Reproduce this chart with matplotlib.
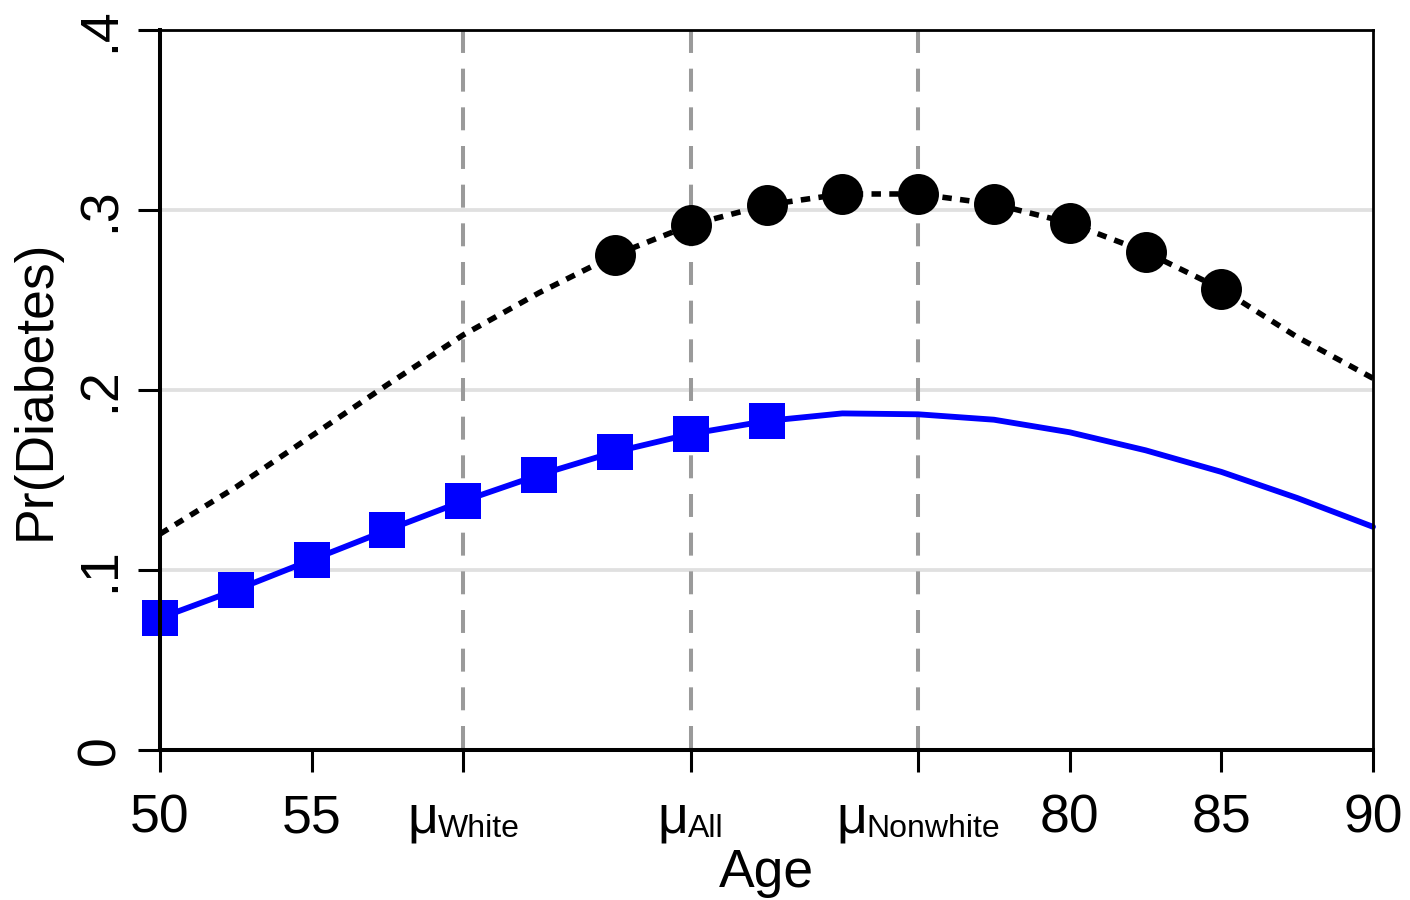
import matplotlib

matplotlib.use("Agg")
import matplotlib.pyplot as plt
from matplotlib.offsetbox import AnnotationBbox, HPacker, TextArea

# predicted Pr(Diabetes) by age
AGES = [50, 52.5, 55, 57.5, 60, 62.5, 65, 67.5, 70, 72.5, 75, 77.5, 80, 82.5, 85, 87.5, 90]
PR_WHITE = [0.0733, 0.0889, 0.1056, 0.1222, 0.1383, 0.1528, 0.1656, 0.1756, 0.1828,
            0.1870, 0.1865, 0.1835, 0.1765, 0.1665, 0.1545, 0.1400, 0.1240]
PR_NONWHITE = [0.1200, 0.1460, 0.1745, 0.2030, 0.2306, 0.2540, 0.2750, 0.2917, 0.3028,
               0.3089, 0.3089, 0.3033, 0.2928, 0.2767, 0.2561, 0.2294, 0.2065]
WHITE_MARKED = slice(0, 9)      # markers from 50 to 70
NONWHITE_MARKED = slice(6, 15)  # markers from 65 to 85

MEAN_GROUPS = ["White", "All", "Nonwhite"]
MEAN_AGES = [60, 67.5, 75]

X_TICKS = [50, 55, 80, 85, 90]
Y_TICKS = [0, 0.1, 0.2, 0.3, 0.4]
Y_TICK_LABELS = ["0", ".1", ".2", ".3", ".4"]

plt.rcParams["font.family"] = ["Liberation Sans", "DejaVu Sans"]
BIG = 38.5
SMALL = 23

fig = plt.figure(figsize=(14.1, 9), dpi=100)
ax = fig.add_axes([160 / 1410, 150 / 900, 1213 / 1410, 720 / 900])

ax.set_xlim(50, 90)
ax.set_ylim(0, 0.4)

# horizontal grid
ax.set_yticks(Y_TICKS, labels=Y_TICK_LABELS)
ax.yaxis.grid(True, color="#e0e0e0", linewidth=2.7)
ax.set_axisbelow(True)

# vertical reference lines at the group means, dashes start at the top
for age in MEAN_AGES:
    ax.plot([age, age], [1, 0], transform=ax.get_xaxis_transform(), color="#9a9a9a",
            linewidth=2.9, linestyle=(0, (5.7, 3.9)), dash_capstyle="butt", zorder=1.5)

ax.plot(AGES, PR_NONWHITE, color="black", linewidth=4.0, linestyle=(0, (1.7, 1.5)),
        dash_capstyle="butt", marker="o", markersize=29.5, markevery=NONWHITE_MARKED,
        markeredgewidth=0, clip_on=False, zorder=3)
ax.plot(AGES, PR_WHITE, color="#0000ff", linewidth=4.2, solid_capstyle="round",
        solid_joinstyle="round", marker="s", markersize=26, markevery=WHITE_MARKED,
        markeredgewidth=0, clip_on=False, zorder=3)

# spines and ticks
for side in ("left", "bottom"):
    ax.spines[side].set_linewidth(2.9)
for side in ("top", "right"):
    ax.spines[side].set_linewidth(2.0)
for spine in ax.spines.values():
    spine.set_zorder(4)

ax.set_xticks(X_TICKS + MEAN_AGES, labels=[str(t) for t in X_TICKS] + [""] * len(MEAN_AGES))
ax.tick_params(axis="both", direction="out", length=16, width=2.2, labelsize=BIG)
ax.tick_params(axis="x", pad=15.5)
ax.tick_params(axis="y", pad=9, labelrotation=90)
plt.setp(ax.get_yticklabels(), va="center")

# mean labels: mu with a smaller subscript
for age, group in zip(MEAN_AGES, MEAN_GROUPS):
    label = HPacker(
        children=[TextArea("μ", textprops=dict(fontsize=BIG)),
                  TextArea(group, textprops=dict(fontsize=SMALL))],
        align="bottom", pad=0, sep=0,
    )
    box = AnnotationBbox(label, (age, 0), xycoords=("data", "axes fraction"),
                         xybox=(0, -31.5), boxcoords="offset points",
                         box_alignment=(0.5, 1), frameon=False, pad=0,
                         annotation_clip=False)
    ax.add_artist(box)

ax.set_xlabel("Age", fontsize=BIG, labelpad=3)
ax.set_ylabel("Pr(Diabetes)", fontsize=BIG, labelpad=10.5)

fig.savefig("out.png", dpi=100, facecolor="white")
